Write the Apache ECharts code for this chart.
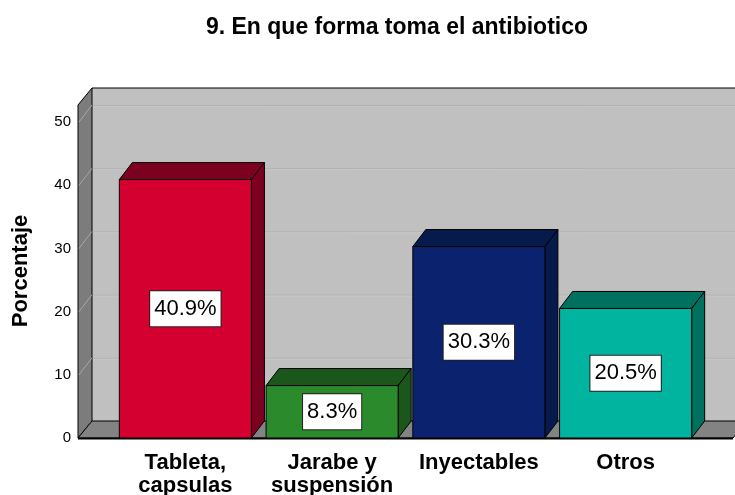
<!DOCTYPE html>
<html>
<head>
<meta charset="utf-8">
<script src="https://cdn.jsdelivr.net/npm/echarts@6/dist/echarts.min.js"></script>
<style>html,body{margin:0;padding:0;background:#fff}#c{width:735px;height:495px}</style>
</head>
<body>
<div id="c"></div>
<script>
var categories = ['Tableta,\ncapsulas', 'Jarabe y\nsuspensión', 'Inyectables', 'Otros'];
var values = [40.9, 8.3, 30.3, 20.5];
var valueLabels = ['40.9%', '8.3%', '30.3%', '20.5%'];
var yTicks = [0, 10, 20, 30, 40, 50];
var frontColors = ['#d40030', '#2b8a2b', '#0b236e', '#00b4a0'];
var darkColors = ['#7c0020', '#1b561b', '#061a4c', '#00705f'];

var FONT = '"Liberation Sans", Arial, sans-serif';
var YMAX = 52.7;
var DX = 14, DY = -17;     // wall depth offset
var BDX = 13, BDY = -17;   // bar depth offset
var WALL_LEFT_PAD = 34, WALL_RIGHT_PAD = 34;

var chart = echarts.init(document.getElementById('c'), null, {renderer: 'canvas'});

function wallsRender(params, api) {
  var band = api.size([1, 0])[0];
  var c0 = api.coord([0, 0]);
  var cN = api.coord([categories.length - 1, 0]);
  var y0 = c0[1];
  var yTop = api.coord([0, YMAX])[1];
  var xl = c0[0] - band / 2 - WALL_LEFT_PAD;
  var xr = cN[0] + band / 2 + WALL_RIGHT_PAD;
  var children = [];
  children.push({type: 'polygon', shape: {points: [[xl + DX, yTop + DY], [xr + DX + 20, yTop + DY], [xr + DX + 20, y0 + DY], [xl + DX, y0 + DY]]},
    style: {fill: '#c0c0c0', stroke: null}});
  for (var i = 1; i < yTicks.length; i++) {
    var yy = api.coord([0, yTicks[i]])[1];
    children.push({type: 'line', shape: {x1: xl + DX, y1: yy + DY + 0.5, x2: xr + DX + 20, y2: yy + DY + 0.5}, style: {stroke: '#b0b0b0', lineWidth: 1}});
    children.push({type: 'line', shape: {x1: xl + DX, y1: yy + DY + 1.5, x2: xr + DX + 20, y2: yy + DY + 1.5}, style: {stroke: '#c8c8c8', lineWidth: 1}});
  }
  children.push({type: 'polygon', shape: {points: [[xl, y0], [xl, yTop], [xl + DX, yTop + DY], [xl + DX, y0 + DY]]},
    style: {fill: '#7c7c7c', stroke: '#000', lineWidth: 1}});
  for (var j = 0; j < yTicks.length; j++) {
    var y2 = api.coord([0, yTicks[j]])[1];
    children.push({type: 'line', shape: {x1: xl + 1, y1: y2, x2: xl + DX, y2: y2 + DY}, style: {stroke: '#a8a8a8', lineWidth: 1}});
  }
  children.push({type: 'polygon', shape: {points: [[xl, y0], [xl + DX, y0 + DY], [xr + DX, y0 + DY], [xr, y0]]},
    style: {fill: '#838383', stroke: '#000', lineWidth: 1}});
  children.push({type: 'line', shape: {x1: xl, y1: y0 + 0.5, x2: xr, y2: y0 + 0.5}, style: {stroke: '#000', lineWidth: 2}});
  children.push({type: 'line', shape: {x1: xl + DX, y1: yTop + DY, x2: xr + DX + 20, y2: yTop + DY}, style: {stroke: '#000', lineWidth: 1}});
  return {type: 'group', children: children};
}

function barRender(params, api) {
  var idx = api.value(0);
  var v = api.value(1);
  var band = api.size([1, 0])[0];
  var w = band * 0.9;
  var base = api.coord([idx, 0]);
  var top = api.coord([idx, v]);
  var mid = api.coord([idx, v / 2]);
  var x1 = base[0] - w / 2, x2 = base[0] + w / 2;
  var yb = base[1], yt = top[1];
  var fc = frontColors[idx], dc = darkColors[idx];
  return {type: 'group', children: [
    {type: 'polygon', shape: {points: [[x1, yt], [x1 + BDX, yt + BDY], [x2 + BDX, yt + BDY], [x2, yt]]},
      style: {fill: dc, stroke: '#000', lineWidth: 1}},
    {type: 'polygon', shape: {points: [[x2, yt], [x2 + BDX, yt + BDY], [x2 + BDX, yb + BDY], [x2, yb]]},
      style: {fill: dc, stroke: '#000', lineWidth: 1}},
    {type: 'rect', shape: {x: x1, y: yt, width: w, height: yb - yt},
      style: {fill: fc, stroke: '#000', lineWidth: 1}},
    {type: 'text', x: mid[0], y: mid[1],
      style: {text: valueLabels[idx], x: 0, y: 0, align: 'center', verticalAlign: 'middle',
        font: '22px ' + FONT, fill: '#000', backgroundColor: '#fff', borderColor: '#222', borderWidth: 1,
        padding: [7, 4, 6, 4]}}
  ]};
}

var barData = values.map(function (v, i) { return [i, v]; });

chart.setOption({
  animation: false,
  backgroundColor: '#fff',
  title: {text: '9. En que forma toma el antibiotico', left: 392, top: 11, textAlign: 'center',
    textStyle: {fontFamily: FONT, fontSize: 23, fontWeight: 'bold', color: '#000'}},
  grid: {left: 112, right: 36, top: 105, bottom: 57, containLabel: false, outerBoundsMode: 'none'},
  xAxis: {type: 'category', data: categories, boundaryGap: true,
    axisLine: {show: false}, axisTick: {show: false}, splitLine: {show: false},
    axisLabel: {interval: 0, color: '#000', fontFamily: FONT, fontSize: 22, fontWeight: 'bold', lineHeight: 23, margin: 13}},
  yAxis: {type: 'value', min: 0, max: YMAX, interval: 10, offset: WALL_LEFT_PAD,
    axisLine: {show: false}, axisTick: {show: false}, splitLine: {show: false},
    axisLabel: {color: '#000', fontFamily: FONT, fontSize: 15, margin: 7, showMaxLabel: false}},
  graphic: [{type: 'text', x: 21, y: 271, rotation: Math.PI / 2,
    style: {text: 'Porcentaje', font: 'bold 22px ' + FONT, fill: '#000', align: 'center', verticalAlign: 'middle'}}],
  series: [
    {type: 'custom', z: 1, silent: true, data: [[0, 0]], renderItem: wallsRender, clip: false},
    {type: 'custom', z: 2, data: barData, renderItem: barRender, clip: false}
  ]
});
</script>
</body>
</html>
